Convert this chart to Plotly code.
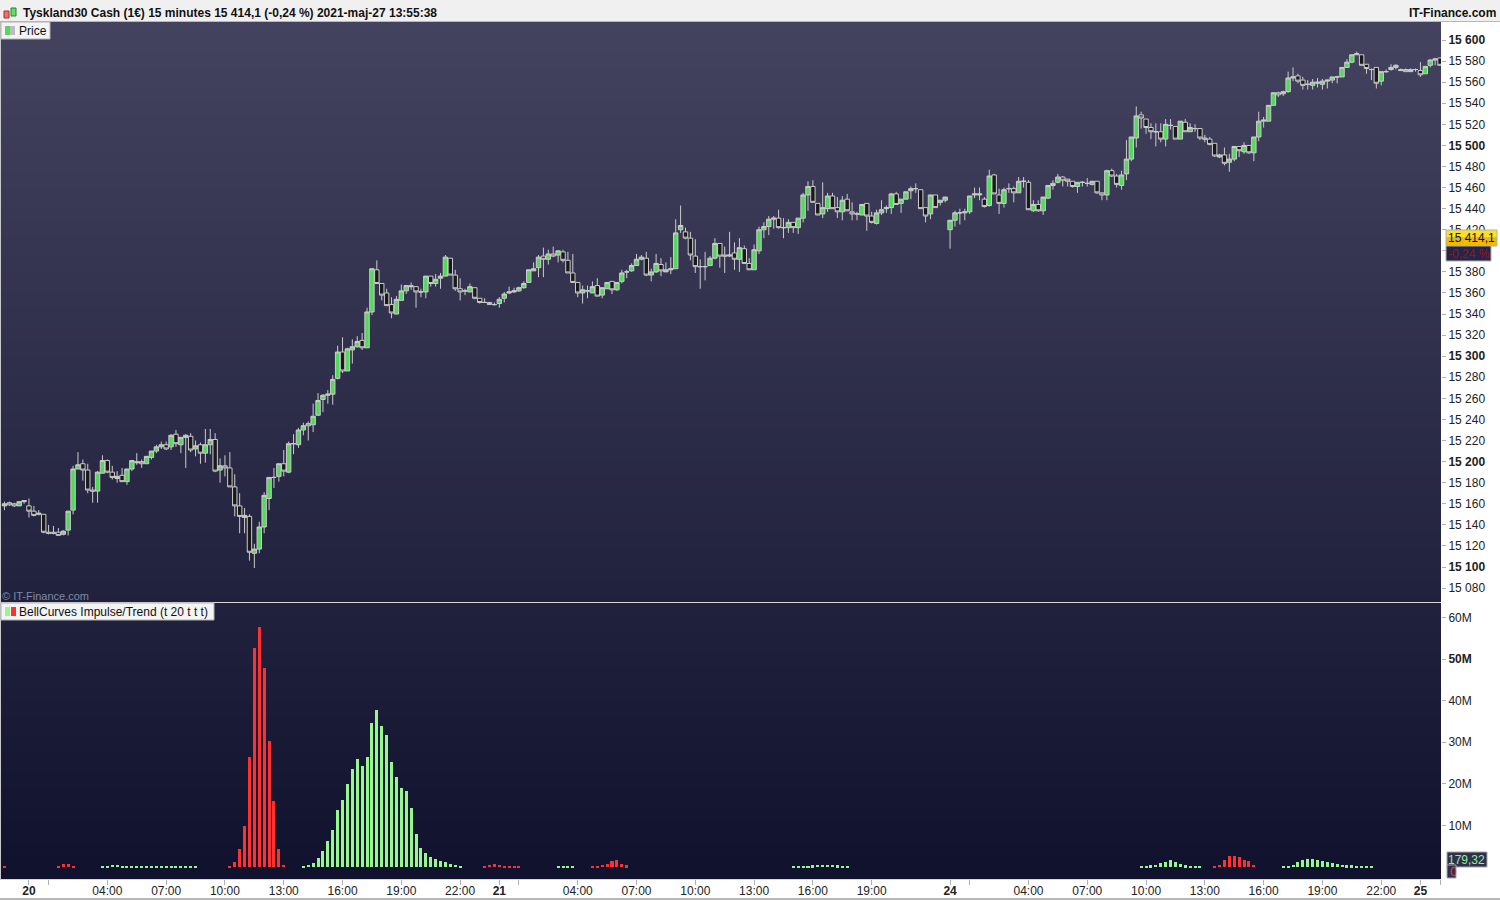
import plotly.graph_objects as go

opens = [15158,15161,15160,15158,15162,15158,15153,15150,15150,15133,
15133,15133,15131,15135,15154,15193,15198,15192,15173,15172,
15189,15201,15190,15184,15187,15181,15193,15200,15200,15198,
15204,15210,15214,15216,15214,15226,15216,15223,15224,15212,
15216,15208,15216,15221,15192,15196,15194,15176,15158,15147,
15148,15113,15117,15138,15165,15185,15186,15198,15190,15217,
15216,15230,15236,15235,15244,15259,15263,15264,15279,15304,
15286,15306,15309,15315,15308,15342,15382,15369,15360,15349,
15340,15353,15362,15367,15366,15361,15361,15376,15369,15374,
15376,15393,15377,15364,15362,15361,15365,15355,15351,15351,
15349,15350,15355,15360,15361,15362,15365,15370,15381,15384,
15395,15392,15397,15396,15399,15391,15379,15370,15360,15362,
15360,15367,15358,15364,15371,15363,15371,15380,15381,15386,
15392,15393,15377,15380,15387,15380,15382,15383,15420,15418,
15412,15395,15385,15385,15386,15393,15407,15396,15395,15398,
15392,15402,15388,15382,15400,15420,15423,15430,15431,15422,
15422,15427,15422,15431,15453,15461,15445,15435,15440,15452,
15441,15437,15449,15437,15435,15434,15445,15433,15426,15436,
15440,15441,15454,15445,15449,15457,15459,15458,15441,15435,
15453,15446,15448,15420,15429,15436,15436,15437,15453,15453,
15449,15443,15472,15453,15445,15459,15459,15455,15466,15465,
15438,15444,15438,15450,15462,15465,15470,15468,15466,15461,
15465,15464,15463,15466,15455,15453,15476,15471,15462,15473,
15487,15507,15529,15525,15517,15513,15513,15506,15519,15518,
15506,15522,15513,15516,15516,15507,15506,15502,15489,15491,
15484,15487,15499,15494,15500,15493,15508,15523,15523,15538,
15550,15549,15551,15564,15566,15562,15558,15557,15559,15558,
15561,15562,15565,15565,15574,15579,15586,15586,15577,15572,
15574,15561,15570,15572,15574,15572,15572,15570,15572,15571,
15568,15576,15581,15583]

highs = [15162,15162,15161,15162,15163,15165,15158,15154,15150,15140,
15139,15137,15135,15153,15196,15209,15202,15198,15176,15191,
15206,15202,15196,15191,15194,15193,15201,15208,15202,15205,
15210,15216,15219,15219,15226,15230,15223,15226,15227,15220,
15218,15231,15231,15227,15203,15206,15209,15188,15170,15156,
15150,15122,15143,15171,15185,15194,15198,15211,15219,15226,
15232,15237,15238,15255,15265,15264,15268,15282,15310,15318,
15308,15316,15319,15322,15346,15383,15391,15369,15364,15356,
15357,15368,15367,15370,15366,15364,15376,15376,15378,15379,
15396,15393,15382,15374,15364,15369,15365,15355,15355,15351,
15351,15356,15361,15366,15365,15366,15371,15382,15389,15396,
15403,15401,15404,15400,15401,15399,15397,15370,15367,15367,
15371,15374,15365,15370,15371,15370,15382,15382,15388,15397,
15396,15399,15383,15397,15393,15389,15394,15430,15443,15422,
15418,15411,15392,15399,15395,15412,15407,15404,15418,15408,
15412,15405,15393,15406,15423,15427,15433,15433,15439,15431,
15430,15427,15431,15455,15466,15467,15445,15465,15455,15455,
15451,15452,15454,15446,15437,15444,15445,15437,15439,15448,
15443,15455,15456,15449,15456,15461,15464,15458,15441,15453,
15453,15448,15451,15429,15438,15440,15440,15452,15460,15460,
15451,15477,15473,15459,15460,15464,15461,15470,15470,15467,
15448,15448,15451,15462,15467,15473,15471,15468,15466,15465,
15466,15469,15466,15466,15455,15477,15478,15473,15476,15505,
15508,15537,15532,15525,15521,15521,15521,15525,15525,15518,
15523,15525,15521,15520,15516,15510,15508,15502,15492,15498,
15492,15499,15499,15503,15500,15508,15532,15527,15538,15550,
15551,15552,15570,15574,15568,15565,15562,15563,15564,15563,
15562,15565,15566,15574,15582,15586,15589,15586,15577,15573,
15574,15570,15572,15577,15577,15573,15573,15573,15573,15579,
15575,15582,15583,15583]

lows = [15154,15158,15157,15158,15160,15147,15148,15149,15132,15131,
15131,15130,15130,15130,15150,15193,15182,15170,15161,15161,
15189,15189,15183,15180,15181,15178,15191,15197,15194,15198,
15202,15208,15212,15211,15211,15214,15208,15194,15209,15205,
15198,15199,15207,15190,15180,15186,15176,15148,15132,15132,
15106,15099,15113,15132,15154,15175,15181,15186,15189,15207,
15213,15225,15220,15228,15244,15247,15255,15254,15278,15284,
15286,15293,15308,15306,15308,15339,15369,15353,15348,15336,
15340,15353,15359,15363,15346,15356,15355,15366,15366,15364,
15376,15377,15362,15353,15358,15361,15354,15350,15351,15349,
15348,15346,15351,15359,15360,15361,15364,15370,15381,15375,
15375,15387,15394,15389,15389,15379,15370,15356,15350,15355,
15360,15357,15355,15364,15359,15362,15369,15374,15380,15386,
15391,15376,15371,15379,15376,15380,15378,15383,15417,15411,
15391,15379,15364,15372,15386,15392,15384,15379,15394,15382,
15380,15388,15382,15382,15397,15412,15415,15421,15421,15412,
15417,15417,15416,15427,15438,15446,15434,15431,15437,15440,
15431,15429,15438,15429,15429,15434,15419,15426,15425,15434,
15436,15435,15444,15436,15449,15449,15455,15440,15427,15430,
15441,15443,15446,15402,15423,15425,15429,15435,15450,15448,
15441,15442,15454,15435,15441,15455,15446,15455,15460,15439,
15437,15437,15434,15449,15458,15464,15461,15461,15460,15455,
15461,15461,15462,15454,15448,15448,15470,15460,15458,15467,
15485,15498,15516,15511,15506,15499,15503,15499,15515,15506,
15506,15513,15513,15513,15505,15503,15500,15489,15488,15481,
15475,15485,15489,15492,15492,15485,15504,15517,15523,15538,
15546,15547,15550,15561,15559,15553,15553,15553,15555,15553,
15554,15559,15559,15565,15574,15578,15586,15576,15568,15562,
15554,15557,15569,15571,15572,15571,15570,15570,15570,15565,
15568,15574,15576,15576]

closes = [15160,15159,15158,15162,15163,15153,15149,15151,15133,15132,
15132,15130,15134,15153,15193,15197,15192,15173,15172,15190,
15201,15190,15185,15186,15181,15193,15201,15199,15198,15205,
15210,15214,15216,15212,15225,15217,15223,15225,15211,15215,
15208,15216,15221,15191,15196,15194,15176,15158,15148,15149,
15114,15117,15138,15168,15185,15185,15198,15191,15217,15217,
15230,15234,15234,15243,15258,15263,15264,15278,15304,15286,
15307,15309,15314,15308,15342,15383,15369,15358,15348,15341,
15354,15362,15367,15366,15361,15361,15376,15369,15373,15376,
15394,15377,15364,15361,15362,15366,15355,15351,15351,15349,
15349,15354,15359,15361,15362,15365,15369,15382,15383,15394,
15392,15397,15395,15400,15391,15379,15370,15360,15363,15362,
15366,15357,15365,15370,15363,15370,15379,15380,15386,15392,
15394,15377,15380,15388,15381,15382,15383,15417,15424,15412,
15396,15385,15385,15385,15393,15407,15395,15395,15396,15392,
15403,15388,15382,15401,15420,15423,15430,15431,15422,15422,
15427,15422,15431,15453,15461,15446,15434,15441,15452,15440,
15437,15448,15438,15435,15435,15444,15433,15427,15436,15439,
15441,15454,15444,15449,15456,15459,15459,15440,15433,15453,
15441,15448,15451,15429,15436,15436,15437,15452,15454,15454,
15442,15471,15454,15445,15458,15459,15455,15466,15466,15439,
15444,15438,15451,15462,15464,15470,15467,15466,15461,15465,
15465,15464,15466,15455,15453,15476,15471,15463,15472,15487,
15508,15528,15526,15517,15513,15513,15506,15520,15519,15506,
15523,15513,15517,15516,15507,15506,15501,15490,15491,15483,
15487,15499,15495,15500,15493,15508,15523,15524,15538,15550,
15548,15551,15564,15565,15561,15557,15558,15560,15560,15561,
15562,15565,15565,15574,15579,15586,15587,15576,15573,15572,
15559,15570,15570,15574,15576,15571,15570,15572,15572,15567,
15575,15581,15582,15576]

# BellCurves impulse bars: bar index and height, in millions
red_bars = [0,11,12,13,14,46,47,48,49,50,51,52,53,54,55,56,57,
            98,99,100,101,102,103,104,105,120,121,122,123,124,125,126,127,
            247,248,249,250,251,252,253,254,255]
red_values = [0.25,0.25,0.7,0.8,0.25,0.24,1.2,4.3,9.9,26.4,52.6,57.7,47.8,30.3,15.9,4.3,0.5,
              0.25,0.5,0.8,0.6,0.25,0.25,0.25,0.25,0.25,0.25,0.55,0.7,1.36,1.6,0.8,0.4,
              0.25,0.5,1.6,2.6,2.6,2.4,1.6,1.4,0.5]
green_bars = [20,21,22,23,24,25,26,27,28,29,30,31,32,33,34,35,36,37,38,39,
              61,62,63,64,65,66,67,68,69,70,71,72,73,74,75,76,77,78,79,80,81,82,83,84,85,86,87,88,89,90,91,92,93,
              113,114,115,116,161,162,163,164,165,166,167,168,169,170,171,172,
              232,233,234,235,236,237,238,239,240,241,242,243,244,
              261,262,263,264,265,266,267,268,269,270,271,272,273,274,275,276,277,278,279]
green_values = [0.25,0.25,0.6,0.6,0.25,0.25,0.25,0.25,0.25,0.25,0.25,0.25,0.25,0.25,0.25,0.25,0.25,0.25,0.25,0.25,
                0.24,0.5,1,2.2,3.8,6.3,8.9,13.7,16.1,20,23.6,26,24.3,26.4,34.6,37.7,33.9,31.7,25.2,21.6,19,18.3,14.2,7.9,4.6,3.4,2.4,1.9,1.4,1.2,0.7,0.5,0.24,
                0.25,0.25,0.25,0.25,0.25,0.25,0.25,0.3,0.4,0.5,0.6,0.6,0.6,0.4,0.3,0.25,
                0.25,0.25,0.4,0.6,1,1.1,1.6,1.2,0.7,0.4,0.25,0.25,0.25,
                0.25,0.25,0.5,1.1,1.6,2,2,1.8,1.5,1.2,1,0.8,0.6,0.4,0.4,0.3,0.25,0.25,0.25]

# Axis ticks
time_tick_bars = [5,9,21,33,45,57,69,81,93,101,105,117,129,141,153,165,177,193,197,209,221,233,245,257,269,281,289,293]
time_tick_text = ["<b>20</b>","","04:00","07:00","10:00","13:00","16:00","19:00","22:00","<b>21</b>","","04:00","07:00","10:00",
                  "13:00","16:00","19:00","<b>24</b>","","04:00","07:00","10:00","13:00","16:00","19:00","22:00","<b>25</b>",""]
price_ticks = [15080,15100,15120,15140,15160,15180,15200,15220,15240,15260,15280,15300,15320,15340,15360,15380,15400,15420,
               15440,15460,15480,15500,15520,15540,15560,15580,15600]
price_tick_text = ["15 080","<b>15 100</b>","15 120","15 140","15 160","15 180","<b>15 200</b>","15 220","15 240","15 260","15 280",
                   "<b>15 300</b>","15 320","15 340","15 360","15 380","<b>15 400</b>","15 420","15 440","15 460","15 480",
                   "<b>15 500</b>","15 520","15 540","15 560","15 580","<b>15 600</b>"]
volume_ticks = [10,20,30,40,50,60]
volume_tick_text = ["10M","20M","30M","40M","<b>50M</b>","60M"]

FONT = "Liberation Sans"
W, H = 1500, 900


def px(x):
    return x / W


def py(y):
    return 1 - y / H


def rect(x0, y0, x1, y1, fill, line=None, layer="above", width=1):
    return dict(type="rect", xref="paper", yref="paper", x0=px(x0), x1=px(x1), y0=py(y1), y1=py(y0),
                fillcolor=fill, line=dict(color=line or fill, width=width if line else 0), layer=layer)


def label(x, y, text, size=12, color="#111111", anchor="left", bold=False):
    return dict(xref="paper", yref="paper", x=px(x), y=py(y), text=f"<b>{text}</b>" if bold else text,
                showarrow=False, xanchor=anchor, yanchor="middle", borderpad=0,
                font=dict(family=FONT, size=size, color=color))


TOP = (67, 67, 95)
BOTTOM = (16, 17, 44)
shapes = []
y0, y1, step = 22, 880, 5
for y in range(y0, y1, step):
    t = (y - y0) / (y1 - y0)
    c = [round(a + (b - a) * t) for a, b in zip(TOP, BOTTOM)]
    # each band runs to the bottom so the next one paints over it with no seam
    shapes.append(rect(1, y, 1441, y1, f"rgb({c[0]},{c[1]},{c[2]})", layer="below"))

shapes += [
    rect(0, 0, 1500, 22, "#f0f0f0"),
    rect(0, 21, 1500, 22, "#b8b8b8"),
    rect(0, 602, 1441, 603, "#d8d8d8"),
    rect(0, 879, 1441, 880, "#d8d8d8"),
    rect(0, 898, 1500, 900, "#b8b8b8"),
    rect(0, 22, 1, 880, "#c8c8c8"),
    # header icon
    rect(4, 11, 9, 18, "#f07070", "#a03030"),
    rect(11, 8, 16, 16, "#60e060", "#308030"),
    # legend tabs
    rect(1, 22, 50, 39, "#f4f4f4", "#b0b0b0"),
    rect(5, 26, 10, 35, "#55d85c"),
    rect(10, 26, 15, 35, "#bdbdbd"),
    rect(1, 603, 214, 620, "#f4f4f4", "#b0b0b0"),
    rect(5, 607, 10, 616, "#96f78f"),
    rect(11, 607, 16, 616, "#ff3030"),
    # last price boxes
    rect(1446, 230, 1497, 238, "#ffe020", "#b0b0b0"),
    rect(1446, 238, 1497, 246, "#f5b800", "#b0b0b0"),
    rect(1446, 246, 1491, 261, "#25254a", "#b0b0b0"),
    rect(1447, 852, 1487, 867, "#30304e", "#a8a8a8"),
    rect(1447, 865, 1456, 878, "#30304e", "#a8a8a8"),
]

annotations = [
    label(22, 13, "Tyskland30 Cash (1€) 15 minutes 15 414,1 (-0,24 %) 2021-maj-27 13:55:38", bold=True),
    label(1497, 13, "IT-Finance.com", anchor="right", bold=True),
    label(18, 31, "Price"),
    label(18, 612, "BellCurves Impulse/Trend (t 20 t t t)"),
    label(1, 596, "© IT-Finance.com", size=11, color="#7c8ca4"),
    label(1447, 238, "15 414,1", size=12, color="#111111"),
    label(1447, 254, "-0,24 %", size=12, color="#a01010"),
    label(1447, 860, "179,32", size=12, color="#90f090"),
    label(1449, 872, "0", size=12, color="#ff3030"),
]

fig = go.Figure()
fig.add_trace(go.Candlestick(
    x=list(range(len(opens))), open=opens, high=highs, low=lows, close=closes,
    whiskerwidth=0, xaxis="x", yaxis="y", hoverinfo="skip",
    increasing=dict(fillcolor="#55d85c", line=dict(color="#cccccc", width=1)),
    decreasing=dict(fillcolor="#1a1a1a", line=dict(color="#cccccc", width=1)),
))
fig.add_trace(go.Bar(x=red_bars, y=red_values, width=0.62, marker=dict(color="#ff3030", line=dict(width=0)),
                     xaxis="x2", yaxis="y2", hoverinfo="skip"))
fig.add_trace(go.Bar(x=green_bars, y=green_values, width=0.62, marker=dict(color="#96f78f", line=dict(width=0)),
                     xaxis="x2", yaxis="y2", hoverinfo="skip"))

xrange = [-0.71, 293.2]
fig.update_layout(
    width=W, height=H, margin=dict(l=0, r=0, t=0, b=0), autosize=False,
    paper_bgcolor="white", plot_bgcolor="rgba(0,0,0,0)", showlegend=False,
    boxgap=0.1, boxgroupgap=0, bargap=0,
    font=dict(family=FONT, size=12, color="#111111"),
    shapes=shapes, annotations=annotations,
    xaxis=dict(domain=[px(1), px(1441)], range=xrange, anchor="y", showgrid=False, zeroline=False,
               showticklabels=False, ticks="", rangeslider=dict(visible=False), fixedrange=True),
    yaxis=dict(domain=[py(602), py(22)], range=[15066.8, 15617.1], side="right", anchor="x", showgrid=False,
               zeroline=False, tickvals=price_ticks, ticktext=price_tick_text, ticks="outside", ticklen=4,
               tickcolor="#b0b0b0", tickfont=dict(family=FONT, size=12, color="#222222"), showline=False,
               fixedrange=True),
    xaxis2=dict(domain=[px(1), px(1441)], range=xrange, anchor="y2", showgrid=False, zeroline=False,
                tickvals=time_tick_bars, ticktext=time_tick_text, ticks="outside", ticklen=5, tickcolor="#b0b0b0",
                ticklabelstandoff=-4,
                tickangle=0, tickfont=dict(family=FONT, size=12, color="#222222"), showline=False, fixedrange=True),
    yaxis2=dict(domain=[py(879), py(603)], range=[-2.88, 63.46], side="right", anchor="x2", showgrid=False,
                zeroline=False, tickvals=volume_ticks, ticktext=volume_tick_text, ticks="outside", ticklen=4,
                tickcolor="#b0b0b0", tickfont=dict(family=FONT, size=12, color="#222222"), showline=False,
                fixedrange=True),
)
fig.write_html("out.html", config=dict(displayModeBar=False),
               post_script="document.body.style.margin='0';document.documentElement.style.overflow='hidden';")
